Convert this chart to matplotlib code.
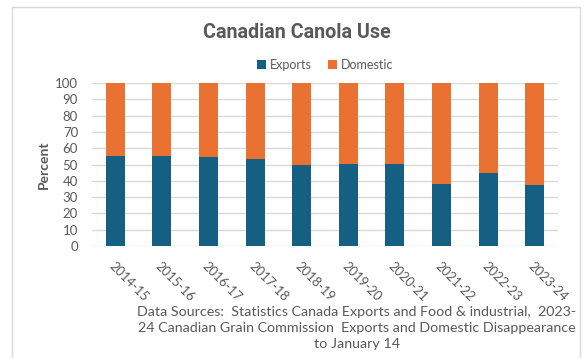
import matplotlib
matplotlib.use("Agg")
import matplotlib.pyplot as plt
from matplotlib.patches import Rectangle

years = ["2014-15", "2015-16", "2016-17", "2017-18", "2018-19",
         "2019-20", "2020-21", "2021-22", "2022-23", "2023-24"]
exports = [55.2, 55.2, 54.3, 53.4, 49.5, 50.1, 50.2, 38.0, 44.5, 37.6]
domestic = [100 - e for e in exports]
yticks = list(range(0, 101, 10))

c_exp = "#156082"
c_dom = "#E97132"
gray = "#595959"

plt.rcParams["font.family"] = ["Lato", "DejaVu Sans"]

W, H = 584, 358
fig = plt.figure(figsize=(W / 100, H / 100), dpi=100)
fig.patch.set_facecolor("white")

# outer chart frame
fig.patches.append(Rectangle((12 / W, -0.01), (580 - 12) / W, (H - 7) / H + 0.01,
                             transform=fig.transFigure, fill=False,
                             edgecolor="#D9D9D9", linewidth=1.0))

ax = fig.add_axes([92 / W, 1 - 246 / H, (558 - 92) / W, (246 - 83) / H])
x = range(len(years))
ax.bar(x, exports, width=0.41, color=c_exp, label="Exports", zorder=3)
ax.bar(x, domestic, bottom=exports, width=0.41, color=c_dom, label="Domestic", zorder=3)

ax.set_xlim(-0.5, len(years) - 0.5)
ax.set_ylim(0, 100)
ax.set_yticks(yticks)
ax.yaxis.grid(True, color="#D9D9D9", linewidth=1.0, zorder=0)
for s in ax.spines.values():
    s.set_visible(False)
ax.tick_params(axis="both", length=0, colors=gray)
ax.tick_params(axis="y", pad=10, labelsize=9.5)
ax.set_xticks(list(x))
ax.set_xticklabels(years, rotation=-45, ha="left", rotation_mode="anchor",
                   fontsize=9.25, color=gray)
ax.tick_params(axis="x", pad=10)
ax.set_ylabel("Percent", fontsize=10, fontweight="bold", color=gray, labelpad=3.5)

fig.text(297 / W, 1 - 33 / H, "Canadian Canola Use", ha="center", va="center",
         fontsize=14.2, fontweight="bold", color=gray,
         family=["Roboto", "DejaVu Sans"])

ax.legend(loc="center", bbox_to_anchor=(0.5, 1 + (83 - 65) / (246 - 83)),
          ncol=2, frameon=False, fontsize=9, handlelength=0.75, handleheight=0.75,
          handletextpad=0.3, columnspacing=1.3, labelcolor=gray)

src = ("Data Sources:  Statistics Canada Exports and Food & industrial,  2023-\n"
       "24 Canadian Grain Commission  Exports and Domestic Disappearance\n"
       "to January 14")
fig.text(357 / W, 1 - 328 / H, src, ha="center", va="center", fontsize=10.25,
         color=gray, linespacing=1.45)

fig.savefig("out.png", dpi=100)
